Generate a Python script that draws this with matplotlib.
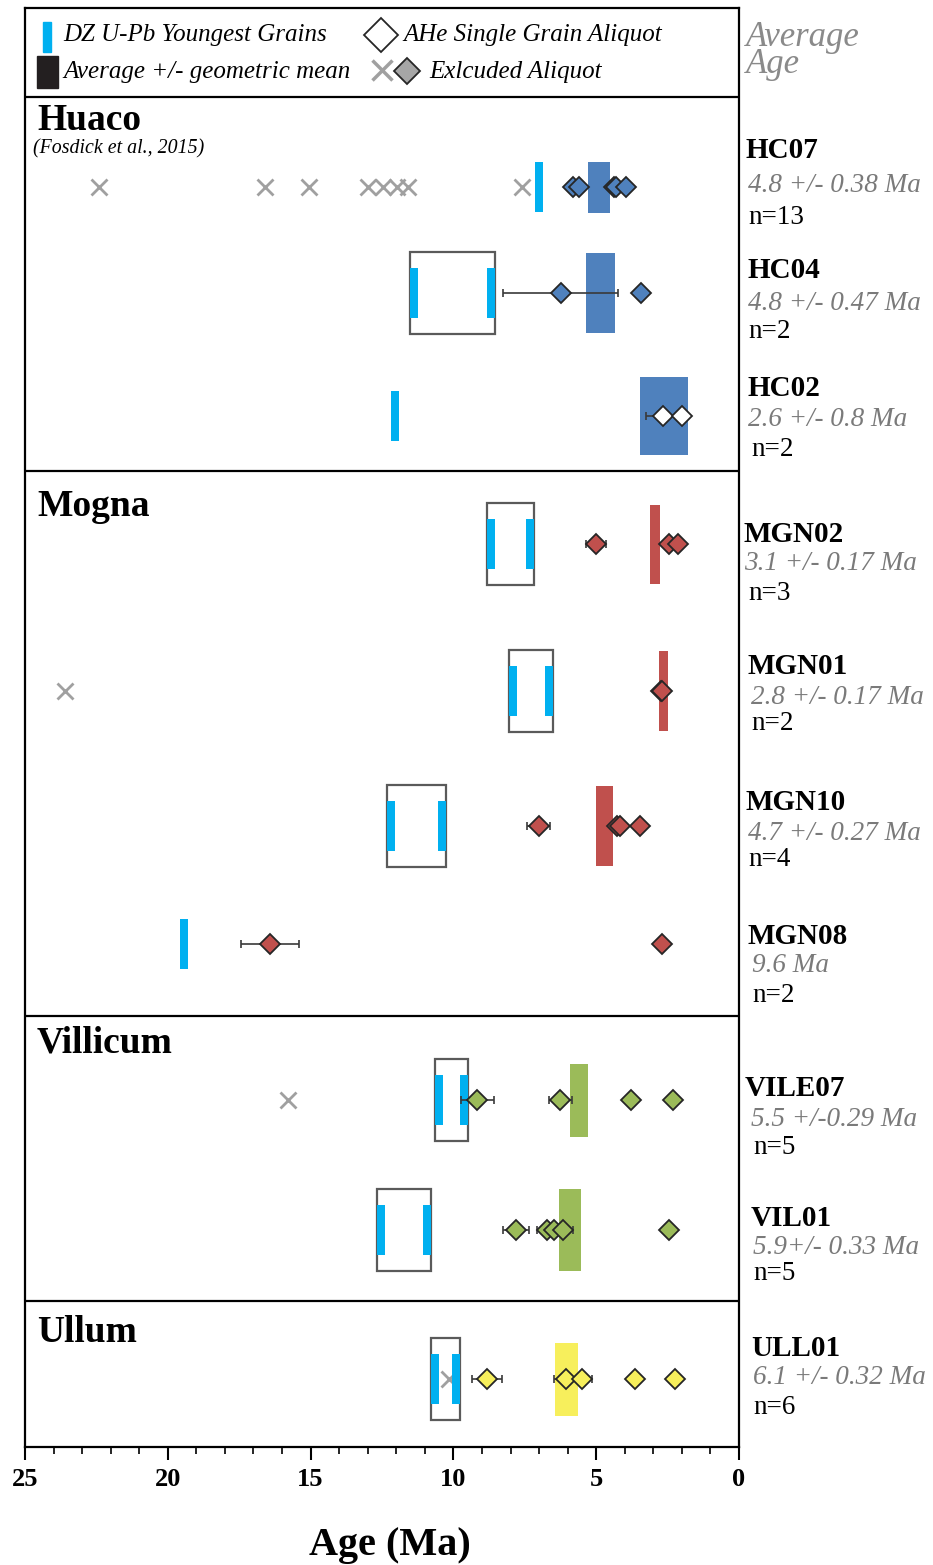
import matplotlib
matplotlib.use("Agg")
import matplotlib.pyplot as plt
import matplotlib.transforms as mtransforms
from matplotlib.patches import Rectangle
from matplotlib.ticker import MultipleLocator

W, H = 933, 1565

# muestras (de arriba a abajo)
samples = ["HC07", "HC04", "HC02", "MGN02", "MGN01", "MGN10", "MGN08",
           "VILE07", "VIL01", "ULL01"]
avg_labels = ["4.8 +/- 0.38 Ma", "4.8 +/- 0.47 Ma", "2.6 +/- 0.8 Ma",
              "3.1 +/- 0.17 Ma", "2.8 +/- 0.17 Ma", "4.7 +/- 0.27 Ma",
              "9.6 Ma", "5.5 +/-0.29 Ma", "5.9+/- 0.33 Ma", "6.1 +/- 0.32 Ma"]
n_labels = ["n=13", "n=2", "n=2", "n=3", "n=2", "n=4", "n=2", "n=5", "n=5", "n=6"]

# edades DZ U-Pb (granos mas jovenes), Ma
dz_youngest = [[7.0], [11.38, 8.67], [12.04], [8.68, 7.32], [7.9, 6.65],
               [12.18, 10.4], [19.43], [10.51, 9.63], [12.55, 10.94],
               [10.63, 9.91]]

# AHe alicuotas (edad, error)
ahe_age = [[5.81, 5.6, 4.38, 4.3, 3.96],
           [6.25, 3.43],
           [2.67, 2.0],
           [5.01, 2.45, 2.15],
           [2.72, 2.68],
           [7.02, 4.28, 4.15, 3.45],
           [16.42, 2.7],
           [9.17, 6.26, 3.78, 2.32],
           [7.82, 6.73, 6.48, 6.15, 2.46],
           [8.82, 6.06, 5.51, 3.63, 2.24]]
ahe_err = [[0, 0, 0, 0, 0],
           [2.0, 0],
           [0.58, 0],
           [0.35, 0, 0],
           [0, 0],
           [0.4, 0, 0, 0],
           [1.0, 0],
           [0.58, 0.4, 0, 0],
           [0.45, 0.33, 0, 0.35, 0],
           [0.52, 0.42, 0.36, 0, 0]]

# alicuotas excluidas
excluded = [[22.41, 16.61, 15.06, 13.0, 12.48, 11.97, 11.59, 7.61],
            [], [], [], [23.6], [], [], [15.8], [], [10.15]]

# promedio +/- media geometrica
mean_age = [4.9, 4.84, 2.62, 2.94, 2.64, 4.7, None, 5.6, 5.92, 6.04]
mean_err = [0.39, 0.5, 0.85, 0.17, 0.17, 0.3, None, 0.33, 0.4, 0.39]

blue, red, green, yellow = "#4f81bd", "#c0504d", "#9bbb59", "#f7ef5c"
fill_colors = [blue, blue, blue, red, red, red, red, green, green, yellow]
diamond_fill = [blue, blue, "white", red, red, red, red, green, green, yellow]
cyan = "#00b0f0"

# layout (pixeles de la figura)
row_y = [187, 293, 416, 544, 691, 826, 944, 1100, 1230, 1379]
rect_h = [51, 80, 78, 79, 80, 80, 0, 73, 82, 73]
lab_y = [(150, 185, 217), (270, 304, 331), (389, 419, 450), (535, 564, 594),
         (667, 698, 724), (803, 833, 860), (936, 966, 996),
         (1088, 1120, 1148), (1219, 1247, 1274), (1348, 1378, 1407)]
lab_x = [(745, 748, 748), (748, 748, 748), (748, 748, 751), (744, 744, 748),
         (748, 751, 751), (746, 748, 748), (747, 752, 752),
         (745, 751, 753), (751, 753, 753), (751, 753, 753)]

fig = plt.figure(figsize=(W / 100, H / 100), dpi=100)
ax = fig.add_axes([25 / W, (H - 1447) / H, 714 / W, 1439 / H])
ax.set_xlim(25, 0)
ax.set_ylim(1447, 8)
px = mtransforms.Affine2D().scale(1 / W, -1 / H).translate(0, 1) + fig.transFigure

for i, s in enumerate(samples):
    y = row_y[i]
    col = fill_colors[i]
    dz = dz_youngest[i]
    ax.bar(dz, 50, bottom=y - 25, width=0.28, color=cyan, zorder=3)
    if len(dz) == 2:
        lo, hi = min(dz) - 0.14, max(dz) + 0.14
        ax.add_patch(Rectangle((lo, y - 41), hi - lo, 82, fill=False,
                               ec="#5a5a5a", lw=1.6, zorder=2))
    if mean_age[i] is not None:
        ax.bar(mean_age[i], rect_h[i], bottom=y - rect_h[i] / 2,
               width=2 * mean_err[i], color=col, zorder=3)
    if excluded[i]:
        ax.plot(excluded[i], [y] * len(excluded[i]), "x", ms=11, mew=2,
                color="#a0a0a0", zorder=2.5)
    for a, e in zip(ahe_age[i], ahe_err[i]):
        if e > 0:
            ax.errorbar(a, y, xerr=e, fmt="none", ecolor="#3a3a3a",
                        elinewidth=1.2, capsize=3, capthick=1.2, zorder=4)
        ax.plot(a, y, "D", ms=10.5, mfc=diamond_fill[i], mec="#262626",
                mew=1.3, zorder=5)

    # etiquetas a la derecha
    (xn, xa, xc), (yn, ya, yc) = lab_x[i], lab_y[i]
    fig.text(xn, yn, s, transform=px, family="Liberation Serif",
             weight="bold", fontsize=21, va="center")
    fig.text(xa, ya, avg_labels[i], transform=px,
             family="Liberation Serif", style="italic", fontsize=19.5,
             color="#7a7a7a", va="center")
    fig.text(xc, yc, n_labels[i], transform=px,
             family="Liberation Serif", fontsize=19.5, va="center")

# separadores de secciones
for yy in [97, 471, 1016, 1301]:
    ax.axhline(yy, color="black", lw=1.6, zorder=6)

sections = [("Huaco", 121), ("Mogna", 507), ("Villicum", 1043), ("Ullum", 1332)]
for name, yy in sections:
    ax.text(37, yy, name, transform=px, family="Liberation Serif",
            weight="bold", fontsize=27, va="center")
ax.text(33, 149, "(Fosdick et al., 2015)", transform=px,
        family="Liberation Serif", style="italic", fontsize=14.3, va="center")

# leyenda
ax.add_patch(Rectangle((43, 22), 8, 30, transform=px, color=cyan,
                       clip_on=False))
ax.add_patch(Rectangle((37, 56), 21, 32, transform=px, color="#231f20",
                       clip_on=False))
ax.plot([381], [35], "D", ms=17, mfc="white", mec="#262626", mew=1.3,
        transform=px, clip_on=False)
ax.plot([382], [70], "x", ms=14, mew=2.5, color="#a0a0a0", transform=px,
        clip_on=False)
ax.plot([407], [70.5], "D", ms=13, mfc="#a6a6a6", mec="#262626", mew=1.3,
        transform=px, clip_on=False)
leg_font = dict(family="Liberation Serif", style="italic", fontsize=18,
                va="center", transform=px)
ax.text(63, 35, "DZ U-Pb Youngest Grains", **leg_font)
ax.text(63, 72, "Average +/- geometric mean", **leg_font)
ax.text(403, 35, "AHe Single Grain Aliquot", **leg_font)
ax.text(429, 72, "Exlcuded Aliquot", **leg_font)

fig.text(746, 51, "Average\nAge", transform=px, family="Liberation Serif",
         style="italic", fontsize=25, color="#8a8a8a", va="center",
         linespacing=0.75)

# ejes
for sp in ax.spines.values():
    sp.set_linewidth(1.6)
ax.set_yticks([])
ax.xaxis.set_major_locator(MultipleLocator(5))
ax.xaxis.set_minor_locator(MultipleLocator(1))
ax.tick_params(axis="x", which="major", length=9, width=1.5, pad=6)
ax.tick_params(axis="x", which="minor", length=5, width=1.2)
for lab in ax.get_xticklabels():
    lab.set_family("Liberation Serif")
    lab.set_weight("bold")
    lab.set_fontsize(19)
ax.set_xlabel("Age (Ma)", family="Liberation Serif", weight="bold",
              fontsize=29)
ax.xaxis.set_label_coords((390 - 25) / 714, -(1545 - 1447) / 1439)
ax.xaxis.label.set_va("center")

fig.savefig("out.png", dpi=100)
